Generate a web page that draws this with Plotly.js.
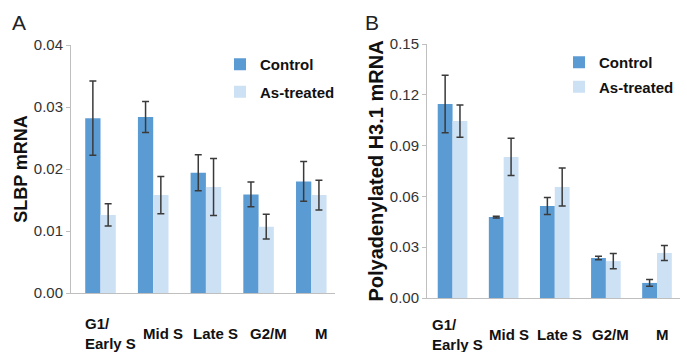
<!DOCTYPE html>
<html>
<head>
<meta charset="utf-8">
<script src="https://cdn.plot.ly/plotly-3.0.1.min.js"></script>
<style>
html,body{margin:0;padding:0;background:#fff;}
#chart{width:687px;height:352px;}
</style>
</head>
<body>
<div id="chart"></div>
<script>
// ---- data ----
var categories = ['G1/ Early S', 'Mid S', 'Late S', 'G2/M', 'M'];
var categoryLabels = ['G1/<br>Early S', 'Mid S', 'Late S', 'G2/M', 'M'];
var seriesNames = ['Control', 'As-treated'];

var slbpControl     = [0.0282, 0.0284, 0.0194, 0.0159, 0.0180];
var slbpControlErr  = [0.0060, 0.0025, 0.0029, 0.0020, 0.0032];
var slbpTreated     = [0.0126, 0.0158, 0.0171, 0.0107, 0.0158];
var slbpTreatedErr  = [0.0018, 0.0030, 0.0046, 0.0020, 0.0024];

var h31Control      = [0.1146, 0.0478, 0.0543, 0.0236, 0.0089];
var h31ControlErr   = [0.0170, 0.0005, 0.0050, 0.0010, 0.0020];
var h31Treated      = [0.1045, 0.0833, 0.0656, 0.0218, 0.0266];
var h31TreatedErr   = [0.0095, 0.0110, 0.0112, 0.0045, 0.0044];

var yTicksA = [0, 0.01, 0.02, 0.03, 0.04];
var yTicksB = [0, 0.03, 0.06, 0.09, 0.12, 0.15];

// ---- styles ----
var W = 687, H = 352;
var sans = 'Liberation Sans, Arial, sans-serif';
var cControl = '#5b9bd3';
var cTreated = '#cde1f5';
var errStyle = {type: 'data', visible: true, color: '#3a3a3a', thickness: 1.5, width: 3.5};

function bar(y, err, name, color, xa, ya, legend, group) {
  return {
    type: 'bar', x: categories, y: y, name: name,
    marker: {color: color},
    error_y: Object.assign({array: err}, errStyle),
    xaxis: xa, yaxis: ya, legend: legend, legendgroup: group, showlegend: true,
    hoverinfo: 'skip'
  };
}

var data = [
  bar(slbpControl, slbpControlErr, seriesNames[0], cControl, 'x', 'y', 'legend', 'a1'),
  bar(slbpTreated, slbpTreatedErr, seriesNames[1], cTreated, 'x', 'y', 'legend', 'a2'),
  bar(h31Control, h31ControlErr, seriesNames[0], cControl, 'x2', 'y2', 'legend2', 'b1'),
  bar(h31Treated, h31TreatedErr, seriesNames[1], cTreated, 'x2', 'y2', 'legend2', 'b2')
];

function px(x) { return x / W; }
function py(y) { return 1 - y / H; }

var axisLine = '#bfbfbf';
function xAxis(domain, range, anchor) {
  return {
    domain: domain, range: range, type: 'category', anchor: anchor,
    showline: true, linecolor: axisLine, linewidth: 1,
    ticks: '', showticklabels: false, showgrid: false, zeroline: false, fixedrange: true
  };
}
function yAxis(domain, range, ticks, title, anchor, standoff, tsize) {
  return {
    domain: domain, range: range, anchor: anchor,
    tickmode: 'array', tickvals: ticks, tickformat: '.2f',
    tickfont: {family: sans, size: 15, color: '#333'},
    ticks: 'outside', ticklen: 4, tickcolor: axisLine,
    showline: true, linecolor: axisLine, linewidth: 1,
    showgrid: false, zeroline: false, fixedrange: true,
    title: {text: title, font: {family: sans, size: tsize, color: '#111', weight: 'bold'}, standoff: standoff}
  };
}

var annotations = [
  {text: 'A', xref: 'paper', yref: 'paper', x: px(19), y: py(23), xanchor: 'center', yanchor: 'middle',
   showarrow: false, font: {family: sans, size: 21, color: '#222'}},
  {text: 'B', xref: 'paper', yref: 'paper', x: px(372), y: py(23), xanchor: 'center', yanchor: 'middle',
   showarrow: false, font: {family: sans, size: 21, color: '#222'}}
];
var catFont = {family: sans, size: 15, color: '#111', weight: 'bold'};
categories.forEach(function (c, i) {
  annotations.push({text: categoryLabels[i], x: c, y: 0, xref: 'x', yref: 'y',
    xanchor: 'center', yanchor: 'middle', align: 'left', xshift: 10, yshift: -40,
    showarrow: false, font: catFont});
  annotations.push({text: categoryLabels[i], x: c, y: 0, xref: 'x2', yref: 'y2',
    xanchor: 'center', yanchor: 'middle', align: 'left', xshift: 5, yshift: -36,
    showarrow: false, font: catFont});
});

var legendFont = {family: sans, size: 15, color: '#111', weight: 'bold'};
var layout = {
  width: W, height: H,
  margin: {l: 0, r: 0, t: 0, b: 0},
  paper_bgcolor: '#fff', plot_bgcolor: '#fff',
  barmode: 'group', bargap: 0.42, bargroupgap: 0,
  font: {family: sans, color: '#222'},
  xaxis: xAxis([px(71), px(335)], [-0.56, 4.45], 'y'),
  yaxis: yAxis([py(293), py(45)], [0, 0.04], yTicksA, 'SLBP mRNA', 'x', 1, 18),
  xaxis2: xAxis([px(427), px(680)], [-0.5, 4.45], 'y2'),
  yaxis2: yAxis([py(298), py(44)], [0, 0.15], yTicksB, 'Polyadenylated H3.1 mRNA', 'x2', 0, 20),
  legend: {x: px(220), y: py(48), xanchor: 'left', yanchor: 'top', bgcolor: 'rgba(0,0,0,0)',
           font: legendFont, itemwidth: 30, tracegroupgap: 5},
  legend2: {x: px(559), y: py(46), xanchor: 'left', yanchor: 'top', bgcolor: 'rgba(0,0,0,0)',
            font: legendFont, itemwidth: 30, tracegroupgap: 2},
  annotations: annotations,
  showlegend: true
};

Plotly.newPlot('chart', data, layout, {staticPlot: true, displayModeBar: false});
</script>
</body>
</html>
